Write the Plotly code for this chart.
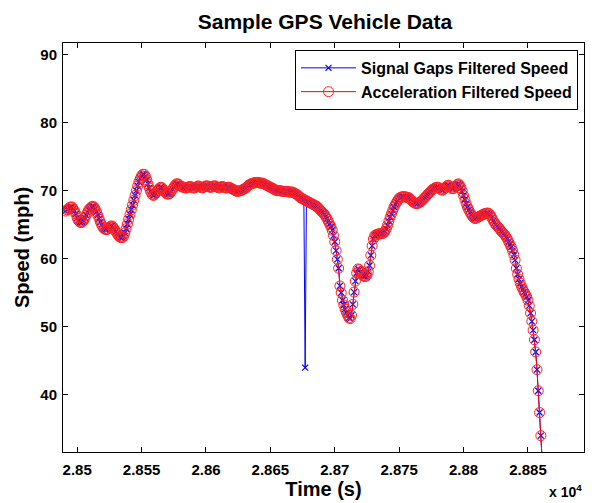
import numpy as np
import plotly.graph_objects as go

# Sample times (1 s sampling)
t_start = 28491
# Acceleration filtered speed (mph), one value per second from t_start
speed_accel = [
    67.0, 67.2, 67.3, 67.5, 67.6, 67.6, 67.3, 67.0, 66.6, 66.0,
    65.6, 65.4, 65.3, 65.4, 65.6, 66.0, 66.4, 66.8, 67.2, 67.4,
    67.6, 67.7, 67.6, 67.3, 66.9, 66.4, 65.9, 65.4, 65.0, 64.6,
    64.4, 64.3, 64.3, 64.4, 64.6, 64.8, 64.8, 64.6, 64.3, 64.0,
    63.7, 63.4, 63.2, 63.1, 63.1, 63.3, 63.8, 64.4, 65.1, 65.8,
    66.5, 67.2, 67.9, 68.6, 69.3, 70.0, 70.7, 71.3, 71.8, 72.2,
    72.4, 72.4, 72.1, 71.6, 71.0, 70.4, 69.9, 69.5, 69.3, 69.4,
    69.6, 69.9, 70.2, 70.4, 70.5, 70.4, 70.1, 69.8, 69.6, 69.5,
    69.5, 69.6, 69.9, 70.2, 70.5, 70.8, 71.0, 71.0, 70.9, 70.7,
    70.6, 70.5, 70.5, 70.4, 70.4, 70.5, 70.6, 70.6, 70.5, 70.4,
    70.4, 70.5, 70.6, 70.7, 70.6, 70.5, 70.4, 70.5, 70.6, 70.7,
    70.7, 70.6, 70.5, 70.5, 70.6, 70.7, 70.7, 70.6, 70.5, 70.4,
    70.5, 70.6, 70.6, 70.5, 70.4, 70.4, 70.5, 70.5, 70.4, 70.3,
    70.2, 70.1, 70.0, 69.9, 69.9, 70.0, 70.0, 70.1, 70.2, 70.3,
    70.4, 70.6, 70.8, 70.9, 71.0, 71.1, 71.1, 71.2, 71.2, 71.2,
    71.2, 71.1, 71.1, 71.1, 71.0, 70.9, 70.8, 70.7, 70.6, 70.5,
    70.4, 70.3, 70.2, 70.1, 70.0, 70.0, 70.0, 70.0, 69.9, 69.9,
    69.9, 69.9, 69.9, 69.8, 69.8, 69.8, 69.8, 69.7, 69.6, 69.5,
    69.4, 69.2, 69.0, 68.9, 68.8, 68.7, 68.6, 68.5, 68.4, 68.3,
    68.2, 68.1, 68.0, 67.9, 67.8, 67.7, 67.5, 67.3, 67.1, 66.9,
    66.7, 66.5, 66.2, 65.9, 65.5, 65.1, 64.7, 64.2, 63.4, 62.5,
    61.2, 59.9, 58.6, 56.0, 55.0, 53.9, 53.2, 52.6, 52.1, 51.7,
    51.3, 51.2, 51.7, 53.3, 55.1, 56.7, 57.9, 58.5, 58.4, 58.1,
    57.8, 57.5, 57.4, 57.4, 57.6, 58.1, 59.0, 60.5, 61.9, 62.9,
    63.4, 63.5, 63.6, 63.6, 63.7, 63.7, 63.7, 63.8, 64.0, 64.4,
    64.9, 65.5, 66.1, 66.6, 67.1, 67.6, 68.0, 68.3, 68.6, 68.9,
    69.0, 69.1, 69.1, 69.1, 69.1, 69.0, 69.0, 68.9, 68.7, 68.5,
    68.3, 68.2, 68.1, 68.1, 68.2, 68.3, 68.4, 68.6, 68.8, 69.0,
    69.2, 69.4, 69.6, 69.8, 70.0, 70.2, 70.3, 70.4, 70.5, 70.5,
    70.4, 70.2, 70.1, 70.1, 70.3, 70.5, 70.7, 70.8, 70.7, 70.5,
    70.3, 70.3, 70.5, 70.7, 70.9, 71.0, 70.8, 70.4, 69.9, 69.3,
    68.7, 68.1, 67.6, 67.2, 66.8, 66.5, 66.2, 66.0, 65.9, 66.0,
    66.1, 66.2, 66.3, 66.4, 66.5, 66.6, 66.6, 66.7, 66.7, 66.6,
    66.4, 66.0, 65.6, 65.3, 65.0, 64.8, 64.6, 64.4, 64.1, 63.9,
    63.7, 63.5, 63.2, 62.9, 62.5, 62.1, 61.7, 61.2, 60.6, 59.8,
    58.6, 57.7, 57.0, 56.4, 55.9, 55.5, 55.1, 54.8, 54.4, 53.9,
    53.1, 52.0, 50.8, 49.5, 48.1, 46.3, 43.7, 40.6, 37.4, 34.0,
    30.6, 27.2,
]
# Signal-gap filtered speed equals the above except for one dropout sample
gap_time = 28677
gap_speed = 44.0

time = list(range(t_start, t_start + len(speed_accel)))
speed_gaps = list(speed_accel)
speed_gaps[time.index(gap_time)] = gap_speed

x_ticks = [28500, 28550, 28600, 28650, 28700, 28750, 28800, 28850]
x_tick_labels = ["2.85", "2.855", "2.86", "2.865", "2.87", "2.875", "2.88", "2.885"]
y_ticks = [40, 50, 60, 70, 80, 90]

FONT = "Liberation Sans, Arial, sans-serif"

# The page body has an 8px default margin, so the figure is sized to compensate
W, H = 587, 495

fig = go.Figure()
fig.add_trace(go.Scatter(
    x=time, y=speed_gaps, mode="lines+markers",
    name="Signal Gaps Filtered Speed",
    line=dict(color="#0000ff", width=1),
    marker=dict(symbol="x-thin-open", size=6, color="#0000ff",
                line=dict(color="#0000ff", width=1.2)),
))
fig.add_trace(go.Scatter(
    x=time, y=speed_accel, mode="lines+markers",
    name="Acceleration Filtered Speed",
    line=dict(color="#ff0000", width=1),
    marker=dict(symbol="circle-open", size=10, color="#ff2020",
                line=dict(color="#ff2020", width=1)),
))

axis_common = dict(
    showline=True, linecolor="black", linewidth=1, mirror="allticks",
    ticks="inside", ticklen=5, tickcolor="black", showgrid=False,
    zeroline=False, automargin=False,
    tickfont=dict(family=FONT, size=15, color="black", weight="bold"),
)

fig.update_layout(
    width=W, height=H,
    margin=dict(l=55, r=11, t=35, b=51, autoexpand=False),
    paper_bgcolor="white", plot_bgcolor="white",
    title=dict(text="Sample GPS Vehicle Data", x=0.54, xanchor="center",
               y=0.973, yanchor="middle", automargin=False,
               font=dict(family=FONT, size=21, color="black", weight="bold")),
    xaxis=dict(range=[28489, 28893.5], tickvals=x_ticks, ticktext=x_tick_labels,
               ticklabelstandoff=4,
               title=dict(text="Time (s)", standoff=0,
                          font=dict(family=FONT, size=20, color="black", weight="bold")),
               **axis_common),
    yaxis=dict(range=[31.6, 91.7], tickvals=y_ticks, ticklabelstandoff=2,
               title=dict(text="Speed (mph)", standoff=5,
                          font=dict(family=FONT, size=20, color="black", weight="bold")),
               **axis_common),
    legend=dict(x=0.9885, y=0.983, xanchor="right", yanchor="top",
                bgcolor="white", bordercolor="black", borderwidth=1,
                font=dict(family=FONT, size=16, color="black", weight="bold"),
                itemwidth=55, tracegroupgap=0),
    showlegend=True,
)
fig.add_annotation(text="x 10<sup>4</sup>", xref="paper", yref="paper",
                   x=1.0, y=-0.095, xanchor="right", yanchor="middle",
                   showarrow=False,
                   font=dict(family=FONT, size=14, color="black", weight="bold"))

fig.write_html("out.html")
